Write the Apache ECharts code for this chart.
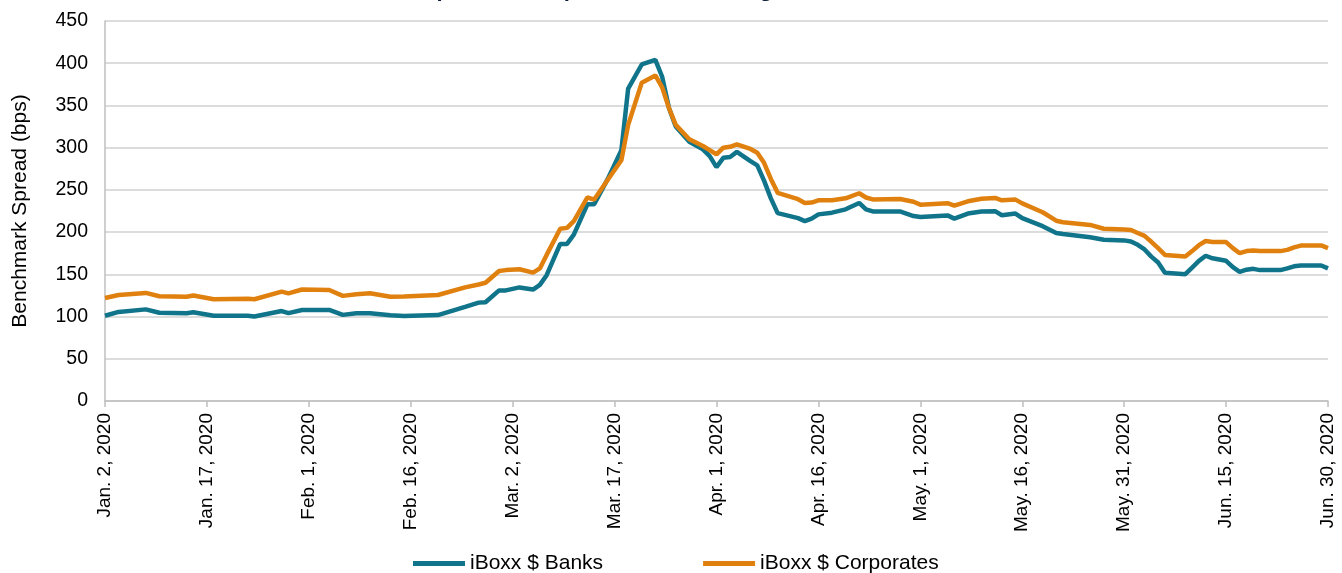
<!DOCTYPE html>
<html>
<head>
<meta charset="utf-8">
<script src="https://cdn.jsdelivr.net/npm/echarts@6/dist/echarts.min.js"></script>
<style>
html,body{margin:0;padding:0;background:#fff;}
#chart{width:1342px;height:573px;}
</style>
</head>
<body>
<div id="chart"></div>
<script>
// Dates of observations
const dates = [
 "2020-01-02","2020-01-04","2020-01-08","2020-01-10","2020-01-14","2020-01-15","2020-01-18","2020-01-23","2020-01-24",
 "2020-01-28","2020-01-29","2020-01-31","2020-02-04","2020-02-06","2020-02-08","2020-02-10","2020-02-13","2020-02-15",
 "2020-02-20","2020-02-24","2020-02-26","2020-02-27","2020-02-29","2020-03-01","2020-03-03","2020-03-05","2020-03-06",
 "2020-03-07","2020-03-09","2020-03-10","2020-03-11","2020-03-13","2020-03-14","2020-03-16","2020-03-18","2020-03-19",
 "2020-03-21","2020-03-23","2020-03-24","2020-03-25","2020-03-26","2020-03-28","2020-03-30","2020-03-31","2020-04-01",
 "2020-04-02","2020-04-03","2020-04-04","2020-04-06","2020-04-07","2020-04-08","2020-04-09","2020-04-10","2020-04-13",
 "2020-04-14","2020-04-15","2020-04-16","2020-04-18","2020-04-20","2020-04-22","2020-04-23","2020-04-24","2020-04-28",
 "2020-04-30","2020-05-01","2020-05-05","2020-05-06","2020-05-08","2020-05-10","2020-05-12","2020-05-13","2020-05-15",
 "2020-05-16","2020-05-19","2020-05-21","2020-05-22","2020-05-26","2020-05-28","2020-05-31","2020-06-01","2020-06-02",
 "2020-06-03","2020-06-04","2020-06-05","2020-06-06","2020-06-09","2020-06-10","2020-06-11","2020-06-12","2020-06-13",
 "2020-06-15","2020-06-16","2020-06-17","2020-06-18","2020-06-19","2020-06-20","2020-06-23","2020-06-24","2020-06-25",
 "2020-06-26","2020-06-29","2020-06-30"
];
// iBoxx $ Banks benchmark spread (bps)
const banks = [
 101,105.5,108.5,104.5,104,105,101,101,100,
 106.5,104,107.8,107.8,102,104,104,101.5,100.8,
 101.8,111.5,116.5,117,131,131,134.5,132,137.5,
 149,186,186,197,233,233,263,297,370,
 398.5,404,384,347,325,307,298,290,277,
 288,289,295,284,279,261,240,222.5,216.5,
 213,216,221,223,227,234.5,227,224.5,224.5,
 219,217.8,219.8,216,222,224.5,224.8,220,222,
 216.5,207,199,197.8,194,191,190.2,189,185,
 179.5,171,164,152,150.2,158,166,172,169,
 166,158.5,153,155.5,156.5,155,155,157,159.5,
 160.5,160.5,157
];
// iBoxx $ Corporates benchmark spread (bps)
const corporates = [
 122,125.5,128,124,123.5,125,120.5,121,120.5,
 129.5,127.5,132,131.5,124.5,126.3,127.5,123.5,123.8,
 125.5,134.5,138,140,154,155,156,152,157,
 173,204,205,213,241,238.5,262,285,327,
 377,385.5,371.5,347,327,310,302,297,292,
 300,301,304,298.5,294,282,263,246.5,239,
 234.5,235,237.6,237.8,240,246,241,238.7,239.2,
 236,232.5,234.2,231.3,236.5,239.5,240.5,237.7,238.5,
 234,223.5,213.5,211.7,208.5,204,203.2,202.5,199,
 195.5,188.5,181,173,171,177.5,184.5,189.5,188.2,
 188.2,181,175,177.5,178.2,177.5,177.5,179,182,
 184,184.2,181
];
// X-axis tick labels (every 15 days from Jan. 2, 2020)
const tickLabels = ["Jan. 2, 2020","Jan. 17, 2020","Feb. 1, 2020","Feb. 16, 2020","Mar. 2, 2020","Mar. 17, 2020",
 "Apr. 1, 2020","Apr. 16, 2020","May. 1, 2020","May. 16, 2020","May. 31, 2020","Jun. 15, 2020","Jun. 30, 2020"];
const seriesNames = ["iBoxx $ Banks","iBoxx $ Corporates"];

const startDay = Date.UTC(2020,0,2);
function dayOffset(s){
  const p = s.split('-').map(Number);
  return Math.round((Date.UTC(p[0],p[1]-1,p[2]) - startDay)/86400000);
}
const xs = dates.map(dayOffset);
const bankData = xs.map((x,i)=>[x,banks[i]]);
const corpData = xs.map((x,i)=>[x,corporates[i]]);

const FONT = "'Liberation Sans', Arial, sans-serif";
const chart = echarts.init(document.getElementById('chart'), null, {renderer:'canvas'});
chart.setOption({
  backgroundColor:'#ffffff',
  animation:false,
  title:{
    text:'Bank Spreads Compared to Overall High-Grade Market',
    left:357, top:-26,
    textStyle:{fontFamily:FONT,fontSize:22,fontWeight:'bold',color:'#0f1e3c'}
  },
  legend:{
    left:408, bottom:-6,
    icon:'rect', itemWidth:52, itemHeight:5, itemGap:100,
    textStyle:{fontFamily:FONT,fontSize:21,color:'#000'},
    data:seriesNames
  },
  grid:{left:105,right:14,top:21,bottom:172,containLabel:false},
  xAxis:{
    type:'value', min:0, max:180, interval:15,
    axisLine:{show:true,lineStyle:{color:'#bfbfbf',width:1.5}},
    axisTick:{show:true,length:6,lineStyle:{color:'#bfbfbf',width:1.5}},
    splitLine:{show:false},
    axisLabel:{rotate:90,margin:12,fontFamily:FONT,fontSize:19,color:'#000',
      showMinLabel:true,showMaxLabel:true,
      formatter:v=>tickLabels[Math.round(v/15)]}
  },
  yAxis:{
    type:'value', min:0, max:450, interval:50,
    name:'Benchmark Spread (bps)', nameLocation:'middle', nameGap:74, nameRotate:90,
    nameTextStyle:{fontFamily:FONT,fontSize:21,color:'#000'},
    axisLine:{show:true,lineStyle:{color:'#bfbfbf',width:1.5}},
    axisTick:{show:false},
    splitLine:{show:true,lineStyle:{color:'#d0d0d0',width:1.5}},
    axisLabel:{fontFamily:FONT,fontSize:19.5,color:'#000',margin:17}
  },
  series:[
    {name:seriesNames[0],type:'line',data:bankData,showSymbol:false,symbol:'none',
     lineStyle:{color:'#10748a',width:4.5},itemStyle:{color:'#10748a'},z:2},
    {name:seriesNames[1],type:'line',data:corpData,showSymbol:false,symbol:'none',
     lineStyle:{color:'#e0810f',width:4.5},itemStyle:{color:'#e0810f'},z:3}
  ]
});
</script>
</body>
</html>
